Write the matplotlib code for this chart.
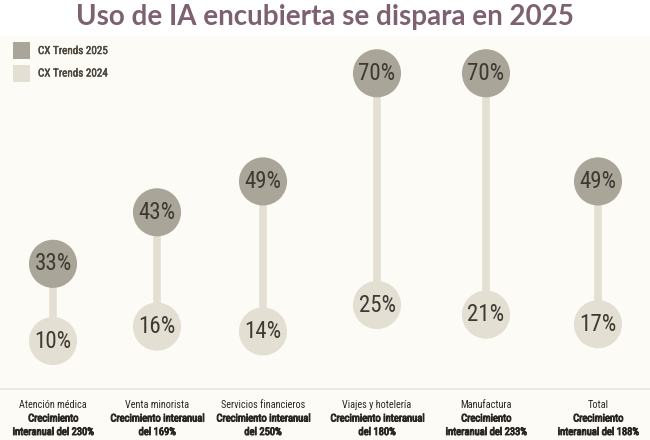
import numpy as np
import matplotlib
matplotlib.use("Agg")
import matplotlib.pyplot as plt
import matplotlib.patheffects as pe
from matplotlib.patches import Rectangle
from matplotlib import font_manager
from matplotlib.font_manager import FontProperties

categories = ["Atención médica", "Venta minorista", "Servicios financieros",
              "Viajes y hotelería", "Manufactura", "Total"]
growth_lines = [["Crecimiento", "interanual del 230%"],
                ["Crecimiento interanual", "del 169%"],
                ["Crecimiento interanual", "del 250%"],
                ["Crecimiento interanual", "del 180%"],
                ["Crecimiento", "interanual del 233%"],
                ["Crecimiento", "interanual del 188%"]]
values_2025 = [33, 43, 49, 70, 70, 49]
values_2024 = [10, 16, 14, 25, 21, 17]
x_pos = [53, 157, 263, 377, 486, 598]
series_names = ["CX Trends 2025", "CX Trends 2024"]
title = "Uso de IA encubierta se dispara en 2025"

# pick a condensed regular font deterministically
PREF = ["Liberation Sans Narrow", "Roboto Condensed", "Open Sans Condensed",
        "Noto Sans", "Lato", "DejaVu Sans"]
cands = []
for f in font_manager.fontManager.ttflist:
    st = str(f.stretch).lower()
    is_cond = ("Narrow" in f.name or "Condensed" in f.name or
               st in ("condensed", "semi-condensed", "extra-condensed", "ultra-condensed"))
    if not is_cond or "Mono" in f.name or "Serif" in f.name or f.style != "normal":
        continue
    w = f.weight if isinstance(f.weight, int) else 400
    if not (380 <= w < 600):
        continue
    fname_l = f.fname.lower()
    srank = 1 if ("semicondensed" in fname_l or "extracondensed" in fname_l
                  or "ultracondensed" in fname_l) else 0
    prank = next((i for i, p in enumerate(PREF) if f.name.startswith(p)), 99)
    cands.append((prank, srank, abs(w - 400), f.fname))
cands.sort()
cond_reg = cands[0][3] if cands else None

names = {f.name for f in font_manager.fontManager.ttflist}
if cond_reg:
    FP_REG = FontProperties(fname=cond_reg)
    cat_fs, lab_fs, num_fs, leg_fs = 7.0, 7.6, 16.5, 8.0
else:
    FP_REG = FontProperties(family="Roboto")
    cat_fs, lab_fs, num_fs, leg_fs = 6.4, 6.4, 13.5, 7
title_font = "Lato" if "Lato" in names else "DejaVu Sans"

W, H = 650, 440
fig = plt.figure(figsize=(6.5, 4.4), dpi=100)
fig.patch.set_facecolor("white")

def fy(py):
    return 1 - py / H

fig.patches.append(Rectangle((0, 0), 1, fy(36), transform=fig.transFigure,
                             facecolor="#fdfbf5", edgecolor="none", zorder=-5))
fig.add_artist(plt.Line2D([0, 1], [fy(389), fy(389)], transform=fig.transFigure,
                          color="#e8e6df", lw=1.2, zorder=-4))

fig.text(0.5, fy(17), title, ha="center", va="center", fontsize=20,
         fontweight="bold", color="#7d6170", family=title_font)

C2025 = "#aaa599"
C2024 = "#e4dfd3"
TXT = "#3e3a32"
LAB = "#2b2823"

for i, (name, col) in enumerate(zip(series_names, [C2025, C2024])):
    top = 42 + i * 22.5
    fig.patches.append(Rectangle((13 / W, fy(top + 17)), 17 / W, 17 / H,
                                 transform=fig.transFigure, facecolor=col,
                                 edgecolor="none", zorder=-3))
    fp = FP_REG.copy(); fp.set_size(leg_fs)
    fig.text(38 / W, fy(top + 9), name, ha="left", va="center",
             color="#4a453d", fontproperties=fp,
             path_effects=[pe.withStroke(linewidth=0.3, foreground="#4a453d")])

ax = fig.add_axes([0, fy(389), 1, (389 - 36) / H])
ax.set_facecolor("none")
ax.set_zorder(2)

# piecewise-linear value scale: lower range compressed as in the infographic
KNOT, RATIO = 25.0, 5.15 / 2.4

def fwd(v):
    v = np.asarray(v, dtype=float)
    return np.where(v <= KNOT, v, KNOT + (v - KNOT) * RATIO)

def inv(t):
    t = np.asarray(t, dtype=float)
    return np.where(t <= KNOT, t, KNOT + (t - KNOT) / RATIO)

ax.set_yscale("function", functions=(fwd, inv))
ax.set_xlim(0, W)
ax.set_ylim(-10, 77.24)
ax.axis("off")

for x, a, b in zip(x_pos, values_2025, values_2024):
    ax.plot([x, x], [b, a], color=C2024, lw=5.5, solid_capstyle="butt", zorder=1)

ax.scatter(x_pos, values_2024, s=1200, color=C2024, edgecolors="none", zorder=2)
ax.scatter(x_pos, values_2025, s=1200, color=C2025, edgecolors="none", zorder=2)
for x, a, b in zip(x_pos, values_2025, values_2024):
    for v in (a, b):
        fp = FP_REG.copy(); fp.set_size(num_fs)
        ax.text(x, v, f"{v}%", ha="center", va="center", fontproperties=fp,
                color=TXT, zorder=3)

bold_fx = [pe.withStroke(linewidth=0.65, foreground=LAB)]
for x, cat, gl in zip(x_pos, categories, growth_lines):
    fp = FP_REG.copy(); fp.set_size(cat_fs + 0.4)
    fig.text(x / W, fy(405), cat, ha="center", va="center", fontproperties=fp,
             color=LAB)
    for j, line in enumerate(gl):
        fpb = FP_REG.copy(); fpb.set_size(lab_fs)
        fig.text(x / W, fy(418.5 + j * 13.5), line, ha="center", va="center",
                 fontproperties=fpb, color=LAB, path_effects=bold_fx)

fig.savefig("out.png", dpi=100, facecolor=fig.get_facecolor())
